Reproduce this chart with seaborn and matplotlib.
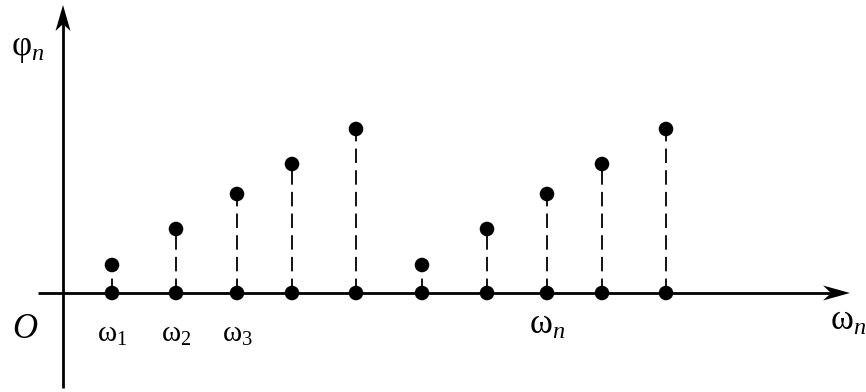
import matplotlib
matplotlib.use("Agg")
import matplotlib.pyplot as plt
import seaborn as sns
import pandas as pd

# Spectral line positions (frequency) and phase amplitudes
freqs = [49, 113, 174, 229, 293, 359, 424, 484, 539, 603]
phases = [28, 64, 99, 129, 164, 28, 64, 99, 129, 164]
tick_labels = {0: r"$\mathrm{\omega}_1$", 1: r"$\mathrm{\omega}_2$",
               2: r"$\mathrm{\omega}_3$", 7: r"$\mathrm{\omega}_n$"}

sns.set_theme(style="white")
plt.rcParams["font.family"] = ["Liberation Serif", "DejaVu Serif"]
plt.rcParams["mathtext.fontset"] = "custom"
plt.rcParams["mathtext.rm"] = "Liberation Serif"
plt.rcParams["mathtext.it"] = "Liberation Serif:italic"
plt.rcParams["text.color"] = "black"

df = pd.DataFrame({"freq": freqs, "phase": phases})
base = pd.DataFrame({"freq": freqs, "phase": [0] * len(freqs)})

fig = plt.figure(figsize=(8.66, 3.92), dpi=100)
ax = fig.add_axes([0, 0, 1, 1])

# dashed stems
ax.vlines(df["freq"], 0, df["phase"], colors="black", linewidth=1.3,
          linestyles=(0, (8, 4)), zorder=2)

# coordinate axes
ax.plot([-25, 776], [0, 0], color="black", lw=2.0, zorder=3,
        solid_capstyle="butt")
ax.plot([0, 0], [-95, 275], color="black", lw=2.0, zorder=3,
        solid_capstyle="butt")
# stealth arrow heads
ax.fill([787, 760, 768, 760], [0, 7.5, 0, -7.5], color="black", lw=0, zorder=3)
ax.fill([0, -7.5, 0, 7.5], [288, 262, 269, 262], color="black", lw=0, zorder=3)

sns.scatterplot(data=df, x="freq", y="phase", ax=ax, color="black", s=110,
                edgecolor="none", zorder=4, legend=False)
sns.scatterplot(data=base, x="freq", y="phase", ax=ax, color="black", s=110,
                edgecolor="none", zorder=4, legend=False)
ax.set_xlim(-63, 803)
ax.set_ylim(-99, 293)
ax.axis("off")

for i, lab in tick_labels.items():
    size = 21 if i < 3 else 25
    yb = -49 if i < 3 else -41
    ax.text(freqs[i], yb, lab, ha="center", va="baseline", fontsize=size,
            color="black")

ax.text(-38, -45, "O", style="italic", fontsize=25, ha="center",
        va="baseline", color="black")
ax.text(785, -37, r"$\mathrm{\omega}_n$", fontsize=25, ha="center",
        va="baseline", color="black")
ax.text(-35, 238, r"$\mathrm{\varphi}_n$", fontsize=25, ha="center",
        va="baseline", color="black")

fig.savefig("out.png", dpi=100)
